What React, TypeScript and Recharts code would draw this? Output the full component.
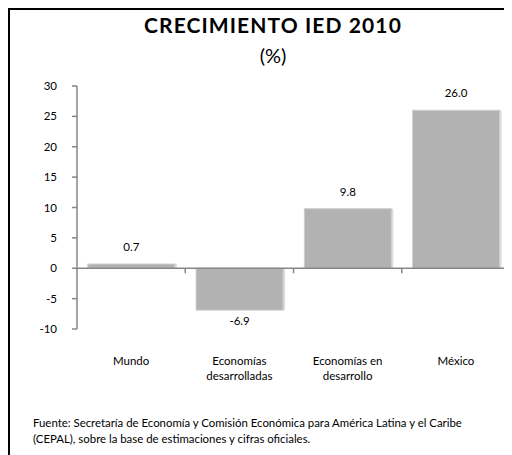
import { Bar, BarChart, LabelList, ReferenceLine, XAxis, YAxis } from "recharts"

const categories = ["Mundo", "Economías desarrolladas", "Economías en desarrollo", "México"]
const categoryLines = [["Mundo"], ["Economías", "desarrolladas"], ["Economías en", "desarrollo"], ["México"]]
const growth = [0.7, -6.9, 9.8, 26.0]
const yTicks = [-10, -5, 0, 5, 10, 15, 20, 25, 30]

const data = categories.map((name, i) => ({ name, value: growth[i] }))

const FONT = "Lato, 'Open Sans', sans-serif"
const AXIS = "#868686"
const BAR = "#b2b2b2"

// zero line with tick marks between categories (axis crosses at 0)
function ZeroLine(props: any) {
  const { x1, y1, x2 } = props
  const step = (x2 - x1) / categories.length
  return (
    <g>
      <line x1={x1} y1={y1} x2={x2} y2={y1} stroke={AXIS} strokeWidth={1.5} />
      {categories.map((_, i) => (
        <line
          key={i}
          x1={x1 + step * (i + 1)}
          x2={x1 + step * (i + 1)}
          y1={y1}
          y2={y1 + 5}
          stroke={AXIS}
          strokeWidth={1.5}
        />
      ))}
    </g>
  )
}

function CatTick({ x, y, index }: any) {
  const lines = categoryLines[index] || []
  return (
    <text x={x} y={y} textAnchor="middle" fontSize={11.5} fontFamily={FONT} fill="#000">
      {lines.map((l, i) => (
        <tspan key={i} x={x} dy={i === 0 ? 30 : 15}>
          {l}
        </tspan>
      ))}
    </text>
  )
}

function SoftBar({ x, y, width, height }: any) {
  const top = Math.min(y, y + height)
  const h = Math.abs(height)
  return (
    <g>
      <rect x={x} y={top} width={width + 2} height={h} fill="#dcdcdc" />
      <rect x={x} y={top} width={width} height={h} fill={BAR} stroke="#cfcfcf" strokeWidth={1} />
    </g>
  )
}

function ValueLabel({ x, y, width, height, value }: any) {
  const neg = value < 0
  const cx = x + width / 2
  const edge = neg ? Math.max(y, y + height) : Math.min(y, y + height)
  return (
    <text
      x={cx}
      y={neg ? edge + 15 : edge - 13}
      textAnchor="middle"
      fontSize={11.5}
      fontFamily={FONT}
      fill="#000"
    >
      {value.toFixed(1)}
    </text>
  )
}

export default function App() {
  return (
    <div
      style={{
        position: "relative",
        width: 504,
        height: 447,
        boxSizing: "border-box",
        borderTop: "2px solid #000",
        borderLeft: "2px solid #000",
        overflow: "hidden",
        fontFamily: FONT,
      }}
    >
      <div
        style={{
          position: "absolute",
          left: 0,
          top: 2,
          width: 526,
          textAlign: "center",
          fontSize: 21,
          fontWeight: 700,
          letterSpacing: 1.1,
          lineHeight: "26px",
        }}
      >
        CRECIMIENTO IED 2010
      </div>
      <div
        style={{
          position: "absolute",
          left: 0,
          top: 33,
          width: 526,
          textAlign: "center",
          fontSize: 20,
          lineHeight: "24px",
        }}
      >
        (%)
      </div>
      <div style={{ position: "absolute", left: 0, top: 0 }}>
        <BarChart
          width={502}
          height={445}
          data={data}
          margin={{ top: 76, right: 2, left: 27, bottom: 86 }}
          barCategoryGap="10%"
        >
          <YAxis
            type="number"
            domain={[-10, 30]}
            ticks={yTicks}
            width={40}
            axisLine={{ stroke: AXIS, strokeWidth: 1.5 }}
            tickLine={{ stroke: AXIS, strokeWidth: 1.5 }}
            tickSize={5}
            tickMargin={15}
            tick={{ fontSize: 11.5, fill: "#000", fontFamily: FONT }}
            interval={0}
          />
          <XAxis
            dataKey="name"
            height={40}
            axisLine={false}
            tickLine={false}
            tick={<CatTick />}
            tickMargin={0}
            interval={0}
          />
          <Bar dataKey="value" fill={BAR} shape={<SoftBar />} isAnimationActive={false}>
            <LabelList dataKey="value" content={<ValueLabel />} />
          </Bar>
          <ReferenceLine y={0} shape={<ZeroLine />} />
        </BarChart>
      </div>
      <div
        style={{
          position: "absolute",
          left: 23,
          top: 405,
          fontSize: 11.4,
          lineHeight: "16px",
          color: "#000",
        }}
      >
        Fuente: Secretaría de Economía y Comisión Económica para América Latina y el Caribe
        <br />
        (CEPAL), sobre la base de estimaciones y cifras oficiales.
      </div>
    </div>
  )
}
